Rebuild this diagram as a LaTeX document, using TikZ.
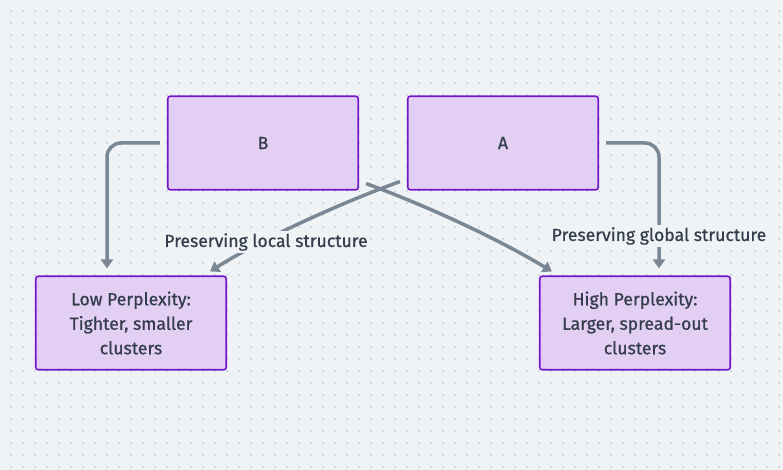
\documentclass[tikz,border=0pt]{standalone}
\usepackage{fontspec}
\setmainfont[FakeBold=0.7]{Fira Sans}
\usetikzlibrary{arrows.meta,calc}
\definecolor{bg}{HTML}{F0F3F6}
\definecolor{dotc}{HTML}{D3D8DE}
\definecolor{boxfill}{HTML}{E3CFF3}
\definecolor{boxdraw}{HTML}{7216C8}
\definecolor{linec}{HTML}{7A8794}
\definecolor{txt}{HTML}{333D4B}
\tikzset{
  box/.style={draw=boxdraw, fill=boxfill, line width=1.6pt, rounded corners=2.5pt,
    minimum width=190.5pt, minimum height=93.5pt, align=center, text=txt,
    font=\fontsize{17.6}{24.5}\selectfont},
  conn/.style={draw=linec, line width=3.5pt, -{Triangle[length=9pt,width=12pt]}},
  lbl/.style={fill=bg, text=txt, inner sep=2pt, font=\fontsize{17.6}{20}\selectfont}
}
\begin{document}
\begin{tikzpicture}[x=1pt,y=-1pt]
\fill[bg] (0,0) rectangle (783,470);
\useasboundingbox (0,0) rectangle (783,470);
\foreach \i in {0,...,64}{\foreach \j in {0,...,38}{
  \fill[dotc] ({11+12*\i-0.8},{11+12*\j-0.8}) rectangle ++(1.6,1.6);}}
\node[box] (B) at (263,143) {B};
\node[box] (A) at (503,143) {A};
\node[box] (low) at (131,323) {Low Perplexity:\\Tighter, smaller\\clusters};
\node[box] (high) at (635,323) {High Perplexity:\\Larger, spread-out\\clusters};
% B -> Low
\draw[conn, rounded corners=14pt] ([xshift=-7pt]B.west) -| ([xshift=-24pt,yshift=7pt]low.north);
% A -> Low
\draw[conn] ([xshift=-7pt,yshift=9pt]A.south west) .. controls (330,207) and (255,243) .. ([xshift=-17pt,yshift=4pt]low.north east);
\node[lbl] (l1) at (266,242) {Preserving local structure};
% B -> High
\draw[conn] ([xshift=7pt,yshift=7pt]B.south east) .. controls (430,207) and (500,240) .. ([xshift=13pt,yshift=4pt]high.north west);
% A -> High
\draw[conn, rounded corners=14pt] ([xshift=7pt]A.east) -| ([xshift=24pt,yshift=7pt]high.north);
\node[lbl] (l2) at (659,236) {Preserving global structure};
\end{tikzpicture}
\end{document}
